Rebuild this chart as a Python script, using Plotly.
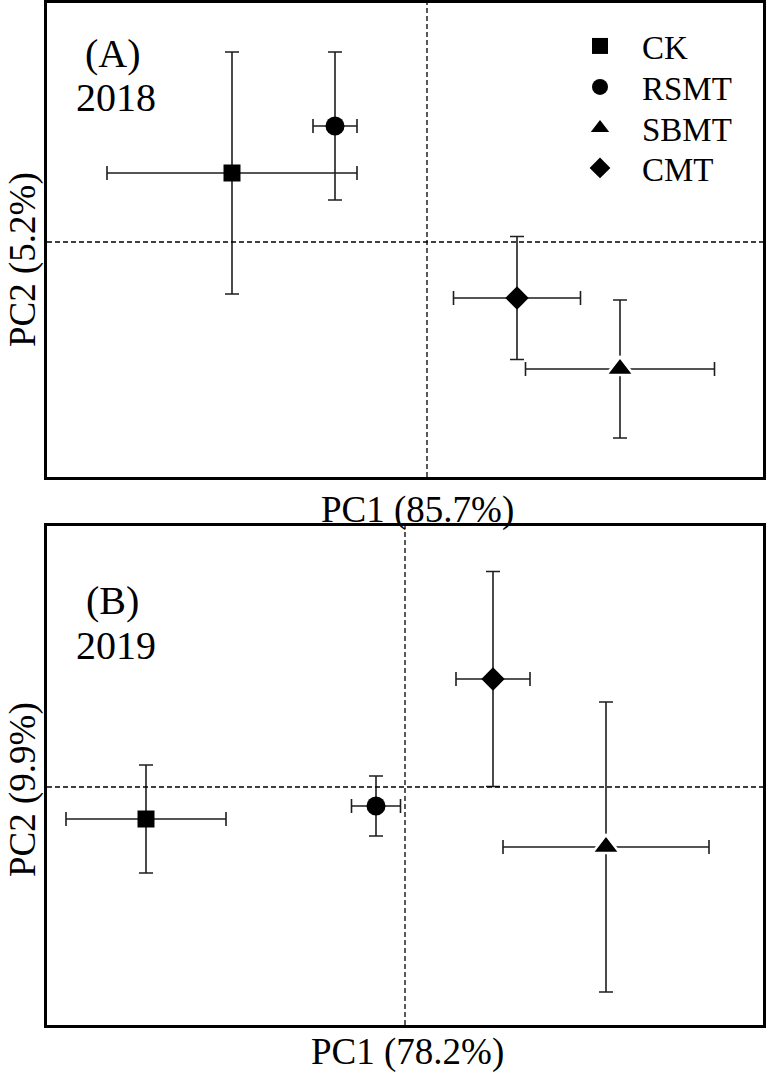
import plotly.graph_objects as go

W, H = 766, 1076
FONT = "Liberation Serif"

treatments = ["CK", "RSMT", "SBMT", "CMT"]
symbols = ["square", "circle", "triangle-up", "diamond"]
sizes = [17, 19, 24, 18]

# Panel A (2018)
pc1_2018 = [-1.95, -0.92, 1.93, 0.90]
pc2_2018 = [0.69, 1.16, -1.27, -0.56]
pc1_err_2018 = [1.25, 0.22, 0.945, 0.635]
pc2_err_2018 = [1.21, 0.74, 0.69, 0.615]

# Panel B (2019)
pc1_2019 = [-2.59, -0.29, 2.01, 0.88]
pc2_2019 = [-0.32, -0.19, -0.60, 1.08]
pc1_err_2019 = [0.80, 0.245, 1.03, 0.37]
pc2_err_2019 = [0.54, 0.30, 1.45, 1.075]

titles_x = ["PC1 (85.7%)", "PC1 (78.2%)"]
titles_y = ["PC2 (5.2%)", "PC2 (9.9%)"]
panel_labels = ["(A)", "(B)"]
years = ["2018", "2019"]

fig = go.Figure()

def px_x(p):
    return p / W

def px_y(p):
    return 1 - p / H

panels = [
    (pc1_2018, pc2_2018, pc1_err_2018, pc2_err_2018, "x", "y"),
    (pc1_2019, pc2_2019, pc1_err_2019, pc2_err_2019, "x2", "y2"),
]

for xs, ys, exs, eys, xa, ya in panels:
    for i, t in enumerate(treatments):
        is_tri = symbols[i] == "triangle-up"
        fig.add_trace(go.Scatter(
            x=[xs[i]], y=[ys[i]], mode="markers", name=t,
            xaxis=xa, yaxis=ya, showlegend=False,
            marker=dict(symbol=symbols[i], size=sizes[i], color="black",
                        line=dict(color="white" if is_tri else "black",
                                  width=2.5 if is_tri else 0)),
            error_x=dict(type="data", array=[exs[i]], visible=True,
                         color="#1e1e1e", thickness=1.6, width=7),
            error_y=dict(type="data", array=[eys[i]], visible=True,
                         color="#1e1e1e", thickness=1.6, width=7),
        ))

# legend-only entries (one legend per treatment for exact row spacing)
legend_names = ["legend", "legend2", "legend3", "legend4"]
legend_rows = [46, 87, 128, 168]
for i, t in enumerate(treatments):
    fig.add_trace(go.Scatter(
        x=[None], y=[None], mode="markers", name=t, legend=legend_names[i],
        showlegend=True, xaxis="x", yaxis="y",
        marker=dict(symbol=symbols[i], size=16, color="black", line=dict(width=0)),
    ))

axis_common = dict(showgrid=False, zeroline=False, showticklabels=False,
                   ticks="", showline=True, linecolor="black", linewidth=3,
                   mirror=True, fixedrange=True)

xdom = [px_x(47), px_x(763)]
layout = dict(
    width=W, height=H,
    margin=dict(l=0, r=0, t=0, b=0),
    paper_bgcolor="white", plot_bgcolor="white",
    font=dict(family=FONT, color="black"),
    xaxis=dict(domain=xdom, range=[-3.80, 3.36], anchor="y", **axis_common),
    yaxis=dict(domain=[px_y(477), px_y(3)], range=[-2.35, 2.39], anchor="x", **axis_common),
    xaxis2=dict(domain=xdom, range=[-3.58, 3.58], anchor="y2", **axis_common),
    yaxis2=dict(domain=[px_y(1025), px_y(526)], range=[-2.38, 2.61], anchor="x2", **axis_common),
    showlegend=True,
)
for i, ln in enumerate(legend_names):
    layout[ln] = dict(x=px_x(558), y=px_y(legend_rows[i]), xanchor="left", yanchor="middle",
                      font=dict(family=FONT, size=33, color="black"),
                      bgcolor="rgba(0,0,0,0)", itemwidth=74)
fig.update_layout(**layout)

# zero reference lines
for xa, ya in [("x", "y"), ("x2", "y2")]:
    fig.add_shape(type="line", xref=xa, yref=ya + " domain", x0=0, x1=0, y0=0, y1=1,
                  line=dict(color="black", width=1.3, dash="5px,3px"))
    fig.add_shape(type="line", xref=xa + " domain", yref=ya, x0=0, x1=1, y0=0, y1=0,
                  line=dict(color="black", width=1.3, dash="5px,3px"))

# Axis titles and panel labels
xt_pos = [(417, 510), (407, 1052)]
yt_pos = [(23, 260), (23, 790)]
lab_pos = [(113, 53), (113, 600)]
yr_pos = [(116, 97), (116, 645)]
for k in range(2):
    fig.add_annotation(text=titles_x[k], x=px_x(xt_pos[k][0]), y=px_y(xt_pos[k][1]),
                       xref="paper", yref="paper", showarrow=False,
                       xanchor="center", yanchor="middle",
                       font=dict(family=FONT, size=37, color="black"))
    fig.add_annotation(text=titles_y[k], x=px_x(yt_pos[k][0]), y=px_y(yt_pos[k][1]),
                       xref="paper", yref="paper", showarrow=False, textangle=-90,
                       xanchor="center", yanchor="middle",
                       font=dict(family=FONT, size=37, color="black"))
    fig.add_annotation(text=panel_labels[k], x=px_x(lab_pos[k][0]), y=px_y(lab_pos[k][1]),
                       xref="paper", yref="paper", showarrow=False,
                       xanchor="center", yanchor="middle",
                       font=dict(family=FONT, size=40, color="black"))
    fig.add_annotation(text=years[k], x=px_x(yr_pos[k][0]), y=px_y(yr_pos[k][1]),
                       xref="paper", yref="paper", showarrow=False,
                       xanchor="center", yanchor="middle",
                       font=dict(family=FONT, size=40, color="black"))

fig.write_html("out.html", config={"displayModeBar": False},
               post_script="document.body.style.margin='0px';")
